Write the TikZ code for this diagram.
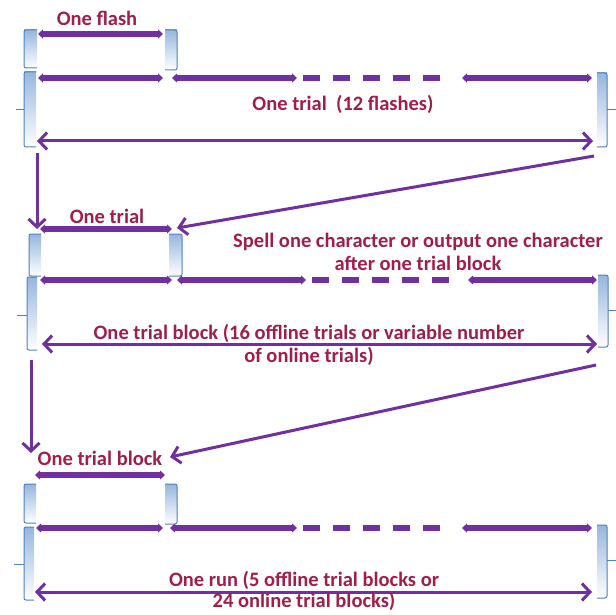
\documentclass[tikz,border=0pt]{standalone}
\usepackage{fontspec}
\setmainfont{Carlito}
\usetikzlibrary{arrows.meta,positioning}

\definecolor{runpurple}{RGB}{112,48,160}
\definecolor{lblred}{RGB}{160,30,75}
\definecolor{brkblue}{RGB}{79,129,189}
\definecolor{brkfill}{RGB}{150,182,222}

\tikzset{
  flashbar/.style={draw=runpurple, line width=5.5pt,
    {Triangle[length=5pt,width=9pt]}-{Triangle[length=5pt,width=9pt]}},
  gapdash/.style={draw=runpurple, line width=5.5pt, dash pattern=on 17pt off 13pt},
  spanline/.style={draw=runpurple, line width=3pt,
    {Straight Barb[length=8pt,width=17pt]}-{Straight Barb[length=8pt,width=17pt]}},
  linkarrow/.style={draw=runpurple, line width=3pt, -{Straight Barb[length=8pt,width=17pt]}},
  lbl/.style={text=lblred, font=\fontsize{20.5}{23}\selectfont\bfseries, inner sep=0pt, align=center},
  brkline/.style={draw=brkblue, line width=1pt, rounded corners=2pt},
}

\begin{document}
\begin{tikzpicture}[x=1pt,y=-1pt]
\useasboundingbox (0,0) rectangle (616,615);

% ── Brackets: "[" small (x-left/x-right/y-top/y-bottom) ─────
\foreach \xa/\xb/\ya/\yb in {24/37/30/68, 29/41/234/276, 24/36/484/523} {
  \shade[top color=brkfill, bottom color=white] (\xa,\ya) rectangle (\xb,\yb);
  \draw[brkline] (\xb,\ya) -- (\xa,\ya) -- (\xa,\yb) -- (\xb,\yb);
}
% "]" small
\foreach \xa/\xb/\ya/\yb in {165/177/30/70, 169/182/234/276, 165/177/484/524} {
  \shade[top color=brkfill, bottom color=white] (\xa,\ya) rectangle (\xb,\yb);
  \draw[brkline] (\xa,\ya) -- (\xb,\ya) -- (\xb,\yb) -- (\xa,\yb);
}
% "{" large, tick to the left
\foreach \xa/\xb/\ya/\yb/\ym/\xt in {24/36/72/147/110/16, 27/37/277/350/315/17, 24/34/527/600/564/14} {
  \shade[top color=brkfill, bottom color=white] (\xa,\ya) rectangle (\xb,\yb);
  \draw[brkline] (\xb,\ya) -- (\xa,\ya) -- (\xa,\yb) -- (\xb,\yb);
  \draw[brkline] (\xa,\ym) -- (\xt,\ym);
}
% "}" large, tick to the right
\foreach \xa/\xb/\ya/\yb/\ym in {597/607/73/147/110, 598/608/275/347/310, 597/607/525/598/560} {
  \shade[top color=brkfill, bottom color=white] (\xa,\ya) rectangle (\xb,\yb);
  \draw[brkline] (\xa,\ya) -- (\xb,\ya) -- (\xb,\yb) -- (\xa,\yb);
  \draw[brkline] (\xb,\ym) -- (616,\ym);
}

% ── Level 1: flashes ─────────────────────────────────────────
\coordinate (fla) at (38,34);   \coordinate (flb) at (163,34);
\coordinate (r1a) at (38,78);   \coordinate (r1b) at (163,78);
\coordinate (r1c) at (172,78);  \coordinate (r1d) at (297,78);
\coordinate (r1e) at (303,78);  \coordinate (r1f) at (440,78);
\coordinate (r1g) at (462,78);  \coordinate (r1h) at (592,78);
\coordinate (t1a) at (37,141);  \coordinate (t1b) at (593,141);
\draw[flashbar] (fla) -- (flb);
\draw[flashbar] (r1a) -- (r1b);
\draw[flashbar] (r1c) -- (r1d);
\draw[gapdash]  (r1e) -- (r1f);
\draw[flashbar] (r1g) -- (r1h);
\draw[spanline] (t1a) -- (t1b);

% ── Level 2: trials ──────────────────────────────────────────
\coordinate (tra) at (40,229);  \coordinate (trb) at (172,229);
\coordinate (r2a) at (40,280);  \coordinate (r2b) at (172,280);
\coordinate (r2c) at (177,280); \coordinate (r2d) at (306,280);
\coordinate (r2e) at (312,280); \coordinate (r2f) at (449,280);
\coordinate (r2g) at (468,280); \coordinate (r2h) at (597,280);
\coordinate (t2a) at (42,344);  \coordinate (t2b) at (597,344);
\draw[flashbar] (tra) -- (trb);
\draw[flashbar] (r2a) -- (r2b);
\draw[flashbar] (r2c) -- (r2d);
\draw[gapdash]  (r2e) -- (r2f);
\draw[flashbar] (r2g) -- (r2h);
\draw[spanline] (t2a) -- (t2b);

% ── Level 3: trial blocks ────────────────────────────────────
\coordinate (bla) at (35,475);  \coordinate (blb) at (165,475);
\coordinate (r3a) at (36,528);  \coordinate (r3b) at (163,528);
\coordinate (r3c) at (170,528); \coordinate (r3d) at (297,528);
\coordinate (r3e) at (303,528); \coordinate (r3f) at (440,528);
\coordinate (r3g) at (462,528); \coordinate (r3h) at (592,528);
\coordinate (t3a) at (35,592);  \coordinate (t3b) at (592,592);
\draw[flashbar] (bla) -- (blb);
\draw[flashbar] (r3a) -- (r3b);
\draw[flashbar] (r3c) -- (r3d);
\draw[gapdash]  (r3e) -- (r3f);
\draw[flashbar] (r3g) -- (r3h);
\draw[spanline] (t3a) -- (t3b);

% ── Links between levels ─────────────────────────────────────
\coordinate (d1s) at (37,153);  \coordinate (d1e) at (37,229);
\coordinate (g1s) at (594,156); \coordinate (g1e) at (177,228);
\coordinate (d2s) at (31,360);  \coordinate (d2e) at (31,453);
\coordinate (g2s) at (596,365); \coordinate (g2e) at (170,457);
\draw[linkarrow] (d1s) -- (d1e);
\draw[linkarrow] (g1s) -- (g1e);
\draw[linkarrow] (d2s) -- (d2e);
\draw[linkarrow] (g2s) -- (g2e);

% ── Labels ───────────────────────────────────────────────────
\node[lbl] (flashlbl) at (97,18)  {One flash};
\node[lbl] (triallbl) at (343,104) {One trial\ \ (12 flashes)};
\node[lbl] (onetrial) at (107,216) {One trial};
\node[lbl] (spelllbl) at (418,252) {Spell one character or output one character\\after one trial block};
\node[lbl] (blocklbl) at (309,345) {One trial block (16 offline trials or variable number\\of online trials)};
\node[lbl] (oneblock) at (100,458) {One trial block};
\node[lbl, font=\fontsize{20.5}{21}\selectfont\bfseries] (runlbl) at (304,591) {One run (5 offline trial blocks or\\24 online trial blocks)};

\end{tikzpicture}
\end{document}
